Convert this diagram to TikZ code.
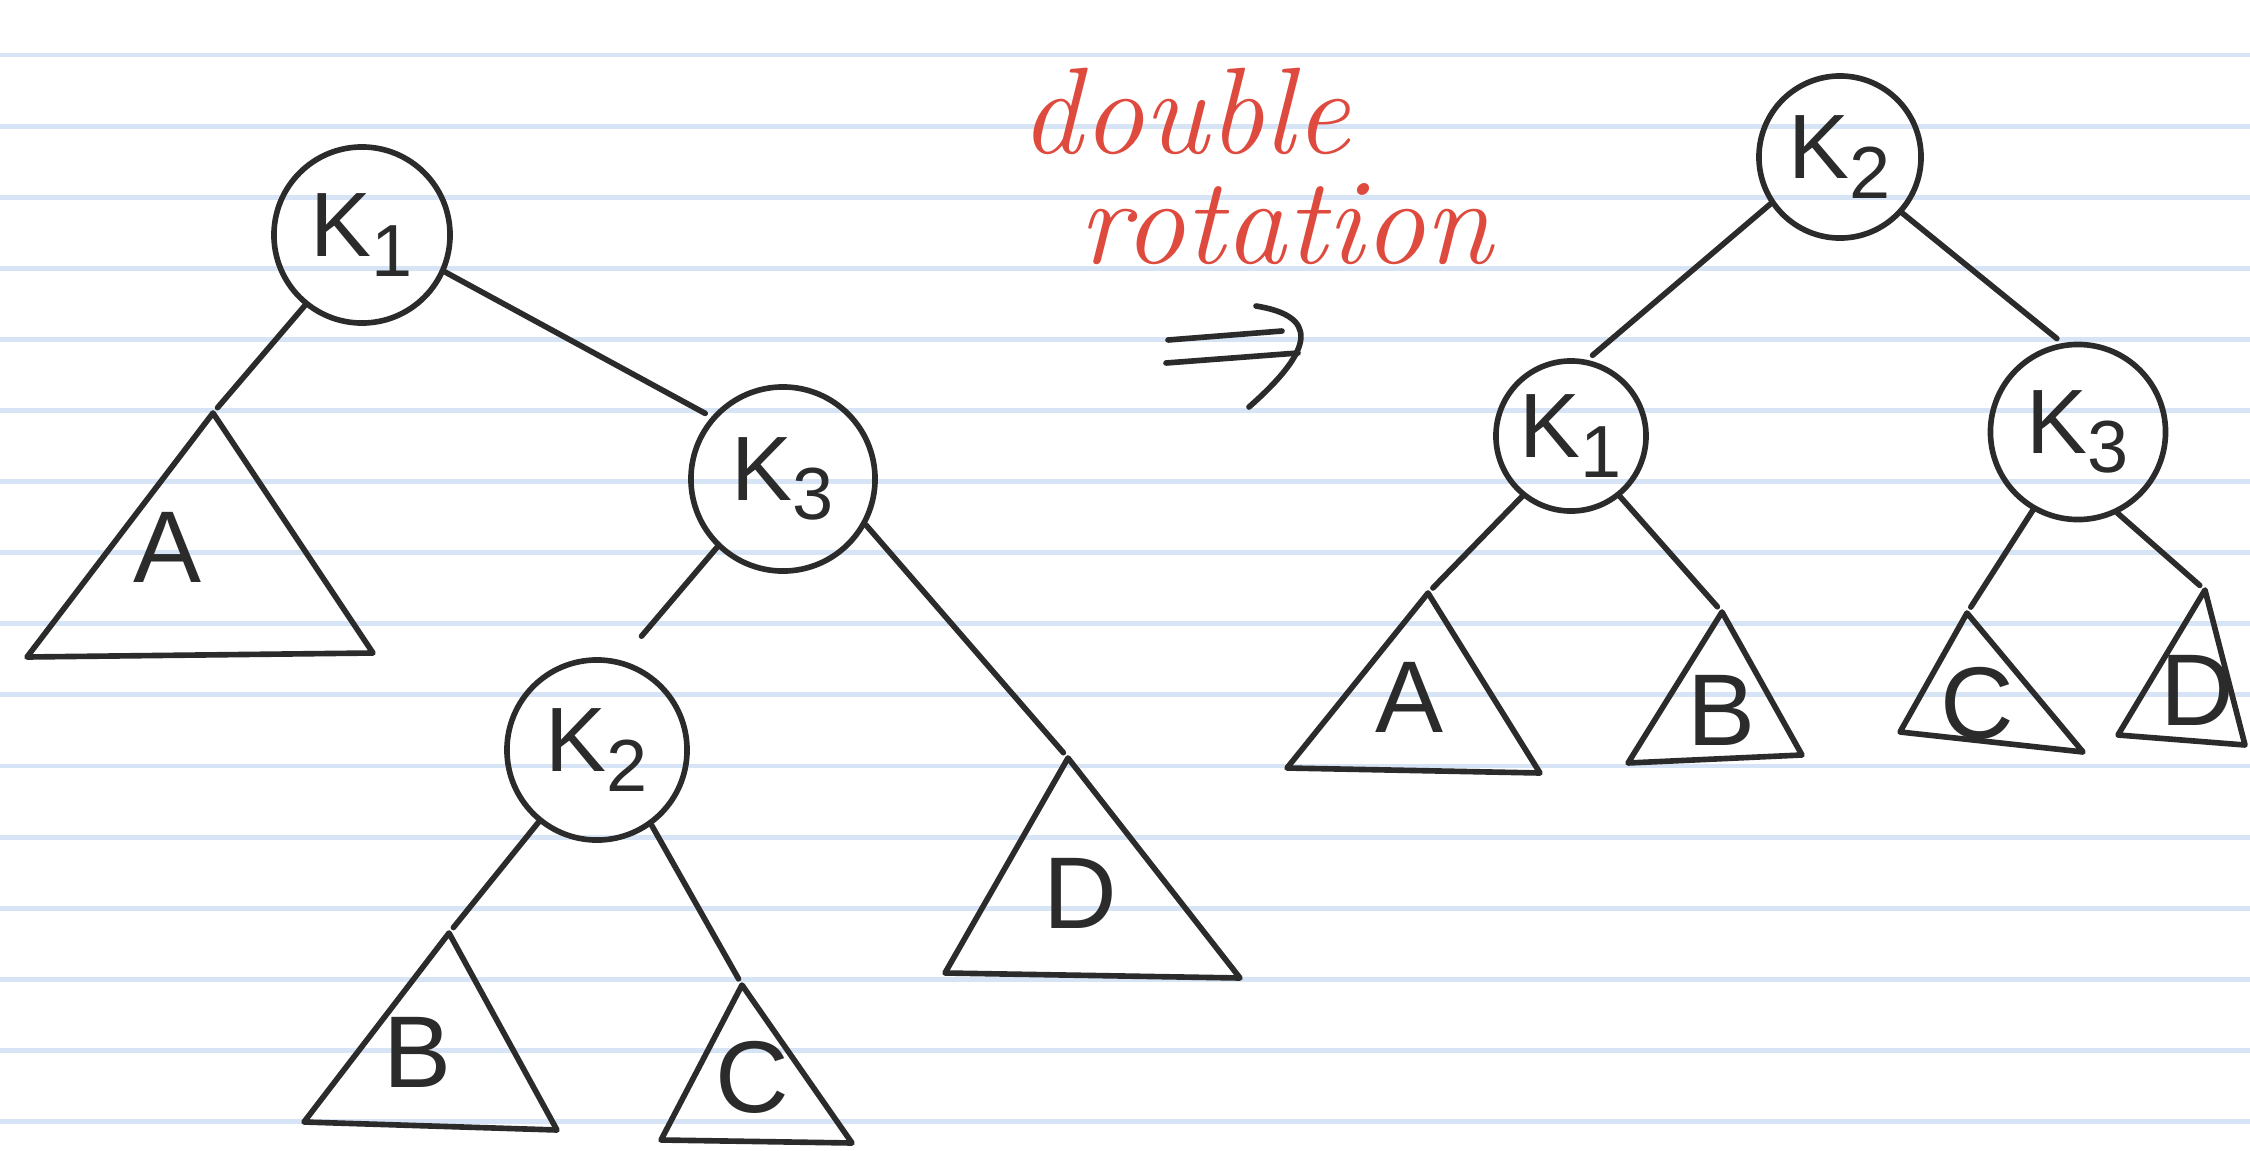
\documentclass[tikz,border=0pt]{standalone}
\usepackage{fontspec}
\newfontfamily\handfont{Liberation Sans}
\definecolor{ink}{RGB}{43,43,43}
\definecolor{pen}{RGB}{222,74,62}
\definecolor{paperline}{RGB}{214,228,245}
\newcommand{\kk}[1]{K\raisebox{-5.5pt}{\fontsize{21}{21}\selectfont#1}}
\tikzset{
  stroke/.style={draw=ink, line width=1.6pt, line cap=round, line join=round},
  branch/.style={stroke, shorten >=2pt},
  keynode/.style={stroke, circle, inner sep=0pt, minimum size=#1, text=ink,
    font=\handfont\fontsize{26}{26}\selectfont},
  leaflabel/.style={text=ink, font=\handfont\fontsize{29}{29}\selectfont},
  scribble/.style={text=pen, anchor=base west, inner sep=0pt, align=left,
    font=\itshape\fontsize{35}{31.2}\selectfont}
}
\begin{document}
\begin{tikzpicture}[x=0.01cm, y=-0.01cm]
  \fill[white] (0,0) rectangle (2250,1151);
  \useasboundingbox (0,0) rectangle (2250,1151);
  \foreach \k in {0,...,15}
    \draw[paperline, line width=1.4pt] (0,{55+71.1*\k}) -- (2250,{55+71.1*\k});

  % before
  \node[keynode=1.76cm] (k1L) at (362,235) {\kk{1}};
  \node[keynode=1.84cm] (k3L) at (783,479) {\kk{3}};
  \node[keynode=1.80cm] (k2L) at (597,750) {\kk{2}};

  \coordinate (aL) at (213,413);
  \draw[stroke] (aL) -- (27,657) -- (373,653) -- cycle;
  \node[leaflabel] (aLt) at (168,547) {A};
  \coordinate (bL) at (449,933);
  \draw[stroke] (bL) -- (304,1122) -- (557,1130) -- cycle;
  \node[leaflabel] (bLt) at (418,1052) {B};
  \coordinate (cL) at (742,985);
  \draw[stroke] (cL) -- (661,1140) -- (852,1143) -- cycle;
  \node[leaflabel] (cLt) at (752,1077) {C};
  \coordinate (dL) at (1068,758);
  \draw[stroke] (dL) -- (945,973) -- (1240,978) -- cycle;
  \node[leaflabel] (dLt) at (1080,893) {D};

  \draw[branch] (k1L.231) -- (aL);
  \draw[branch] (k1L.336) -- (k3L.139);
  \draw[branch, shorten >=9pt] (k3L.226) -- (k2L.75);
  \draw[branch] (k3L.331) -- (dL);
  \draw[branch] (k2L.231) -- (bL);
  \draw[branch] (k2L.306) -- (cL);

  % label and arrow
  \node[scribble] (rotlabel) at (1020,263) {double\\\hspace{0.58cm}rotation};
  \draw[stroke] (1168,340) -- (1282,331);
  \draw[stroke] (1166,363) -- (1298,353);
  \draw[stroke] (1256,306) .. controls (1318,316) and (1316,348) .. (1249,407);

  % after
  \node[keynode=1.62cm] (k2R) at (1840,157) {\kk{2}};
  \node[keynode=1.50cm] (k1R) at (1571,436) {\kk{1}};
  \node[keynode=1.75cm] (k3R) at (2078,432) {\kk{3}};

  \coordinate (aR) at (1428,593);
  \draw[stroke] (aR) -- (1287,768) -- (1540,773) -- cycle;
  \node[leaflabel] (aRt) at (1410,697) {A};
  \coordinate (bR) at (1722,612);
  \draw[stroke] (bR) -- (1628,763) -- (1802,755) -- cycle;
  \node[leaflabel] (bRt) at (1722,710) {B};
  \coordinate (cR) at (1967,613);
  \draw[stroke] (cR) -- (1900,732) -- (2083,752) -- cycle;
  \node[leaflabel] (cRt) at (1977,703) {C};
  \coordinate (dR) at (2205,590);
  \draw[stroke] (dR) -- (2118,735) -- (2245,745) -- cycle;
  \node[leaflabel] (dRt) at (2197,690) {D};

  \draw[branch] (k2R.214) -- (k1R.78);
  \draw[branch] (k2R.318) -- (k3R.100);
  \draw[branch] (k1R.231) -- (aR);
  \draw[branch] (k1R.309) -- (bR);
  \draw[branch] (k3R.240) -- (cR);
  \draw[branch] (k3R.296) -- (dR);
\end{tikzpicture}
\end{document}
